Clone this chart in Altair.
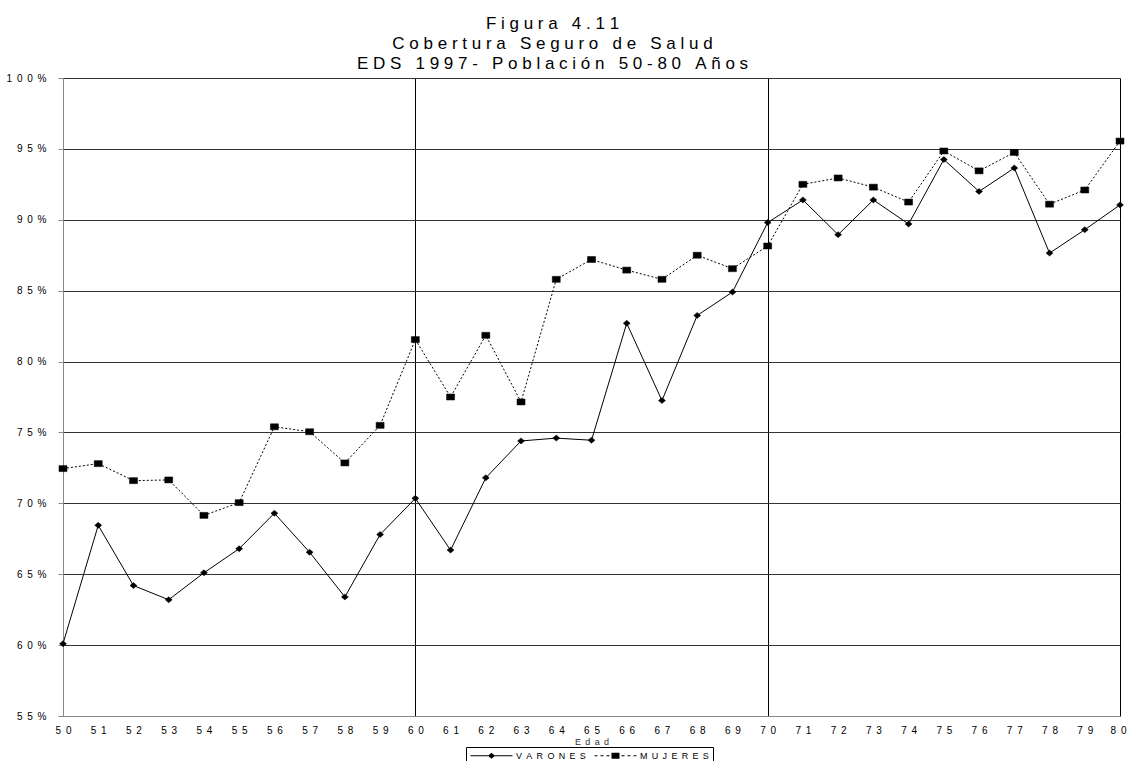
import altair as alt
import pandas as pd

# Edad (años) y cobertura (%) por sexo
edades = list(range(50, 81))
varones = [60.1, 68.45, 64.2, 63.2, 65.1, 66.8, 69.3, 66.55, 63.4, 67.8,
           70.35, 66.7, 71.8, 74.4, 74.6, 74.45, 82.7, 77.25, 83.25, 84.9,
           89.8, 91.4, 88.95, 91.4, 89.7, 94.25, 92.0, 93.65, 87.65, 89.3, 91.05]
mujeres = [72.45, 72.8, 71.6, 71.65, 69.15, 70.05, 75.4, 75.05, 72.85, 75.5,
           81.55, 77.5, 81.85, 77.15, 85.8, 87.2, 86.45, 85.8, 87.5, 86.55,
           88.15, 92.5, 92.95, 92.3, 91.25, 94.85, 93.45, 94.75, 91.1, 92.1, 95.55]
series = ["VARONES", "MUJERES"]
y_ticks = [55, 60, 65, 70, 75, 80, 85, 90, 95, 100]

FONT = "Liberation Sans"
NB = "\u00a0"
GAP = "\u00a0\u2009"
GRID = "#333333"


def spaced(text, gap=NB, word=NB * 3):
    return word.join(gap.join(w) for w in text.split(" "))


titulo = [spaced("Figura 4.11"),
          spaced("Cobertura Seguro de Salud"),
          spaced("EDS 1997- Población 50-80 Años")]

df = pd.DataFrame({
    "edad": edades * 2,
    "valor": varones + mujeres,
    "serie": [series[0]] * len(edades) + [series[1]] * len(edades),
})

DIAMOND = "M0,-0.75L0.875,0L0,0.75L-0.875,0Z"
SQUARE = "M-1,-0.75H1V0.75H-1Z"


def seg(a, b, t=0.125):
    # thin filled bar from a to b (symbol units)
    return f"M{a:.3f},{-t}H{b:.3f}V{t}H{a:.3f}Z"


def dashes(a, b, d=0.75):
    out, x = [], a
    while x + d <= b + 1e-9:
        out.append(seg(x, x + d))
        x += 2 * d
    return "".join(out)


LEG_V = seg(-5.25, 5.25) + DIAMOND
LEG_M = dashes(-5.25, -1.25) + SQUARE + dashes(1.5, 5.25)

x_enc = alt.X("edad:Q",
              scale=alt.Scale(domain=[50, 80], nice=False, zero=False),
              axis=alt.Axis(values=edades, format="d", title=spaced("Edad", GAP),
                            labelExpr=f"join(split(datum.label, ''), '{GAP}')",
                            labelOverlap=False, labelFlush=False,
                            labelOffset={"condition": {"test": "datum.value === 80", "value": -2}, "value": 0},
                            ticks=False, labelPadding=9, titlePadding=2,
                            titleFontWeight="normal", titleFont=FONT, titleFontSize=9,
                            titleColor="#333333",
                            gridColor="black", gridWidth=1,
                            gridOpacity={"condition": {"test": "datum.value % 10 === 0", "value": 1}, "value": 0}))
y_enc = alt.Y("valor:Q",
              scale=alt.Scale(domain=[55, 100], nice=False, zero=False),
              axis=alt.Axis(values=y_ticks, format="d", title=None,
                            labelExpr=f"join(split(datum.label + '%', ''), '{GAP}')",
                            labelOverlap=False, gridColor=GRID, gridWidth=1,
                            gridOpacity=1,
                            tickSize=5, labelPadding=12))

base = alt.Chart(df).encode(x=x_enc, y=y_enc)

linea_v = base.transform_filter(alt.datum.serie == "VARONES").mark_line(
    color="black", strokeWidth=1)
linea_m = base.transform_filter(alt.datum.serie == "MUJERES").mark_line(
    color="black", strokeWidth=1, strokeDash=[2, 2])
puntos_v = base.transform_filter(alt.datum.serie == "VARONES").mark_point(
    shape=DIAMOND, size=64, filled=True, fill="black", stroke="black",
    strokeWidth=0.5, opacity=1)
puntos_m = base.transform_filter(alt.datum.serie == "MUJERES").mark_point(
    shape=SQUARE, size=64, filled=True, fill="black", stroke="black",
    strokeWidth=0.5, opacity=1)

leyenda = base.transform_filter("false").mark_point(
    filled=True, fill="black", opacity=1
).encode(
    shape=alt.Shape("serie:N",
                    scale=alt.Scale(domain=series, range=[LEG_V, LEG_M]),
                    legend=alt.Legend(
                        title=None, orient="none", legendX=403, legendY=669,
                        direction="horizontal", strokeColor="black",
                        fillColor="white", padding=4, symbolSize=64,
                        symbolOffset=17, labelOffset=20, columnPadding=8,
                        symbolFillColor="black", symbolStrokeWidth=0,
                        symbolOpacity=1,
                        labelFont=FONT, labelFontSize=9, labelColor="black",
                        labelExpr=f"join(split(datum.label, ''), '{GAP}')")),
)

chart = alt.layer(linea_m, linea_v, puntos_m, puntos_v, leyenda).properties(
    width=1057, height=638,
    autosize=alt.AutoSizeParams(type="none"),
    padding={"left": 63, "top": 78, "right": 7, "bottom": 45},
    title=alt.TitleParams(text=titulo, font=FONT, fontSize=17, fontWeight="normal",
                          color="black", lineHeight=20, anchor="middle",
                          dx=-39, offset=0),
).configure_view(stroke="black", strokeWidth=1).configure_axis(
    labelFont=FONT, labelFontSize=9, labelColor="#333333",
    domainColor="black", tickColor="black",
).configure_axisX(labelOverlap=False).configure(background="white")

chart.save("out.html", embed_options={"renderer": "svg", "actions": False})
